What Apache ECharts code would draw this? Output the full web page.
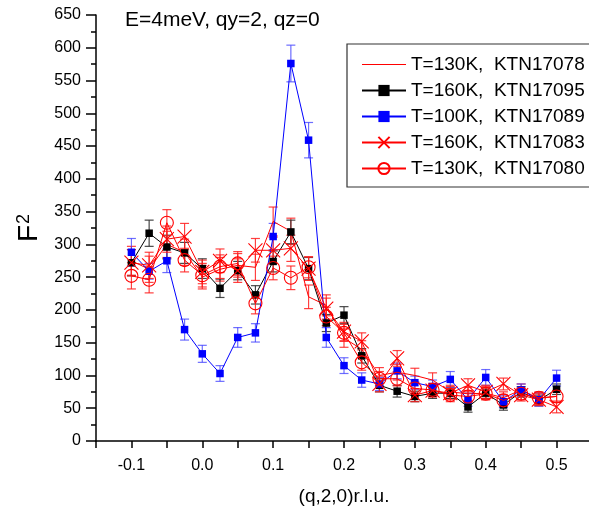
<!DOCTYPE html>
<html>
<head>
<meta charset="utf-8">
<script src="https://cdn.jsdelivr.net/npm/echarts@6/dist/echarts.min.js"></script>
<style>
  html, body { margin: 0; padding: 0; background: #fff; }
  #chart { width: 589px; height: 509px; }
</style>
</head>
<body>
<div id="chart"></div>
<script>
// q positions (r.l.u.)
var qValues = [-0.1, -0.075, -0.05, -0.025, 0, 0.025, 0.05, 0.075, 0.1, 0.125, 0.15, 0.175, 0.2,
  0.225, 0.25, 0.275, 0.3, 0.325, 0.35, 0.375, 0.4, 0.425, 0.45, 0.475, 0.5];

// T=130K, KTN17078 (line only)
var f2_130_78 = [275, 262, 300, 288, 250, 262, 268, 265, 335, 320, 220, 207, 157, 140, 100, 105, 100, 93, 75, 72, 73, 66, 78, 65, 68];
var err_130_78 = [22, 20, 20, 20, 18, 18, 18, 20, 22, 20, 18, 16, 14, 13, 12, 12, 11, 11, 10, 10, 10, 9, 9, 9, 9];
// T=160K, KTN17095 (black squares)
var f2_160_95 = [272, 317, 296, 287, 263, 233, 260, 223, 274, 319, 263, 180, 192, 130, 85, 76, 68, 73, 73, 52, 73, 55, 75, 62, 79];
var err_160_95 = [20, 20, 18, 16, 15, 14, 14, 14, 16, 18, 17, 13, 13, 11, 10, 9, 8, 8, 8, 8, 8, 8, 8, 8, 8];
// T=100K, KTN17089 (blue squares)
var f2_100_89 = [288, 259, 275, 170, 133, 103, 158, 165, 312, 576, 459, 158, 115, 93, 87, 107, 89, 83, 94, 63, 97, 60, 78, 63, 96];
var err_100_89 = [21, 12, 18, 16, 13, 12, 15, 14, 20, 28, 27, 15, 12, 11, 10, 12, 10, 10, 12, 10, 12, 9, 9, 10, 12];
// T=160K, KTN17083 (red crosses)
var f2_160_83 = [272, 268, 308, 312, 258, 275, 260, 291, 291, 294, 263, 202, 167, 152, 87, 126, 70, 77, 73, 85, 75, 87, 70, 63, 52];
var err_160_83 = [20, 20, 20, 20, 18, 18, 18, 18, 20, 20, 18, 16, 14, 13, 12, 12, 10, 10, 10, 10, 10, 9, 9, 9, 9];
// T=130K, KTN17080 (red open circles)
var f2_130_80 = [252, 246, 333, 276, 253, 266, 271, 210, 264, 249, 265, 190, 165, 120, 95, 95, 80, 78, 70, 68, 72, 62, 72, 66, 68];
var err_130_80 = [20, 20, 20, 18, 18, 18, 18, 16, 18, 18, 16, 14, 13, 12, 11, 11, 10, 10, 10, 9, 9, 9, 9, 9, 9];

// x tick labels every 0.1
var xLabels = ['-0.1', '0.0', '0.1', '0.2', '0.3', '0.4', '0.5'];

var FONT = 'Liberation Sans, Arial, sans-serif';

function pairs(vals) {
  return qValues.map(function (q, i) { return [q, vals[i]]; });
}
function errData(vals, errs) {
  return qValues.map(function (q, i) { return [q, vals[i] - errs[i], vals[i] + errs[i]]; });
}
// error bars with caps
function errSeries(vals, errs, color) {
  return {
    type: 'custom',
    z: 1,
    silent: true,
    data: errData(vals, errs),
    renderItem: function (params, api) {
      var top = api.coord([api.value(0), api.value(2)]);
      var bot = api.coord([api.value(0), api.value(1)]);
      var w = 4.5;
      var st = { stroke: color, lineWidth: 1.2 };
      return {
        type: 'group',
        children: [
          { type: 'line', shape: { x1: top[0], y1: top[1], x2: bot[0], y2: bot[1] }, style: st },
          { type: 'line', shape: { x1: top[0] - w, y1: top[1], x2: top[0] + w, y2: top[1] }, style: st },
          { type: 'line', shape: { x1: bot[0] - w, y1: bot[1], x2: bot[0] + w, y2: bot[1] }, style: st }
        ]
      };
    }
  };
}

var names = ['T=130K,  KTN17078', 'T=160K,  KTN17095', 'T=100K,  KTN17089', 'T=160K,  KTN17083', 'T=130K,  KTN17080'];

var chart = echarts.init(document.getElementById('chart'), null, { renderer: 'canvas' });
var option = {
  animation: false,
  backgroundColor: '#fff',
  title: {
    text: 'E=4meV, qy=2, qz=0',
    left: 120, top: 5,
    textStyle: { fontFamily: FONT, fontSize: 21, fontWeight: 'normal', color: '#000' }
  },
  legend: {
    orient: 'vertical',
    left: 347, top: 44,
    padding: [11, 30, 9, 14],
    itemGap: 7,
    itemWidth: 44, itemHeight: 14,
    borderColor: '#333', borderWidth: 1.2,
    textStyle: { fontFamily: FONT, fontSize: 19, color: '#000', padding: [0, 0, 0, 0] },
    data: [{ name: names[0], icon: 'path://M0,0H44V1.1H0Z' }, names[1], names[2], names[3], names[4]]
  },
  grid: { left: 96, top: 15, width: 496, height: 426, outerBoundsMode: 'none', containLabel: false },
  xAxis: {
    type: 'value',
    min: -0.15, max: 0.55, interval: 0.05,
    name: '(q,2,0)r.l.u.',
    nameLocation: 'middle', nameGap: 46,
    nameTextStyle: { fontFamily: FONT, fontSize: 19, color: '#000' },
    axisLine: { onZero: false, lineStyle: { color: '#000', width: 1.5 } },
    axisTick: { length: 7, lineStyle: { color: '#000', width: 1.5 } },
    splitLine: { show: false },
    axisLabel: {
      margin: 17, fontFamily: FONT, fontSize: 16, color: '#000',
      formatter: function (v) {
        var k = Math.round(v * 10);
        var lab = (k / 10).toFixed(1);
        return (Math.abs(v * 10 - k) < 1e-6 && xLabels.indexOf(lab) >= 0) ? lab : '';
      }
    }
  },
  yAxis: {
    type: 'value',
    min: 0, max: 650, interval: 50,
    name: '{f|F}{s|2}',
    nameLocation: 'middle', nameGap: 52, nameRotate: 90,
    nameTextStyle: {
      fontFamily: FONT, color: '#000',
      rich: {
        f: { fontFamily: FONT, fontSize: 28, color: '#000' },
        s: { fontFamily: FONT, fontSize: 18, color: '#000', verticalAlign: 'top', padding: [0, 0, 10, 1] }
      }
    },
    axisLine: { show: true, onZero: false, lineStyle: { color: '#000', width: 1.5 } },
    axisTick: { length: 10, lineStyle: { color: '#000', width: 1.5 } },
    minorTick: { show: true, splitNumber: 2, length: 5, lineStyle: { color: '#000', width: 1.5 } },
    splitLine: { show: false },
    axisLabel: { margin: 15, fontFamily: FONT, fontSize: 16, color: '#000' }
  },
  series: [
    errSeries(f2_130_78, err_130_78, 'rgba(255,30,30,0.85)'),
    errSeries(f2_160_95, err_160_95, 'rgba(40,40,40,0.85)'),
    errSeries(f2_100_89, err_100_89, 'rgba(60,60,255,0.75)'),
    errSeries(f2_160_83, err_160_83, 'rgba(255,30,30,0.85)'),
    errSeries(f2_130_80, err_130_80, 'rgba(255,30,30,0.85)'),
    {
      name: names[0], type: 'line', z: 2, data: pairs(f2_130_78),
      symbol: 'none', lineStyle: { color: '#ff0000', width: 1 }, itemStyle: { color: '#ff0000' }
    },
    {
      name: names[1], type: 'line', z: 3, data: pairs(f2_160_95),
      symbol: 'rect', symbolSize: 7.5,
      lineStyle: { color: '#000', width: 1 }, itemStyle: { color: '#000' }
    },
    {
      name: names[2], type: 'line', z: 3, data: pairs(f2_100_89),
      symbol: 'rect', symbolSize: 7.5,
      lineStyle: { color: '#0000ff', width: 1 }, itemStyle: { color: '#0000ff' }
    },
    {
      name: names[3], type: 'line', z: 4, data: pairs(f2_160_83),
      symbol: 'path://M0,0L10,10M0,10L10,0', symbolSize: 14,
      lineStyle: { color: '#ff0000', width: 1 },
      itemStyle: { color: 'none', borderColor: '#ff0000', borderWidth: 1.1 }
    },
    {
      name: names[4], type: 'line', z: 5, data: pairs(f2_130_80),
      symbol: 'circle', symbolSize: 13,
      lineStyle: { color: '#ff0000', width: 1 },
      itemStyle: { color: 'rgba(255,255,255,0)', borderColor: '#ff0000', borderWidth: 1.1 }
    }
  ]
};
chart.setOption(option);
</script>
</body>
</html>
